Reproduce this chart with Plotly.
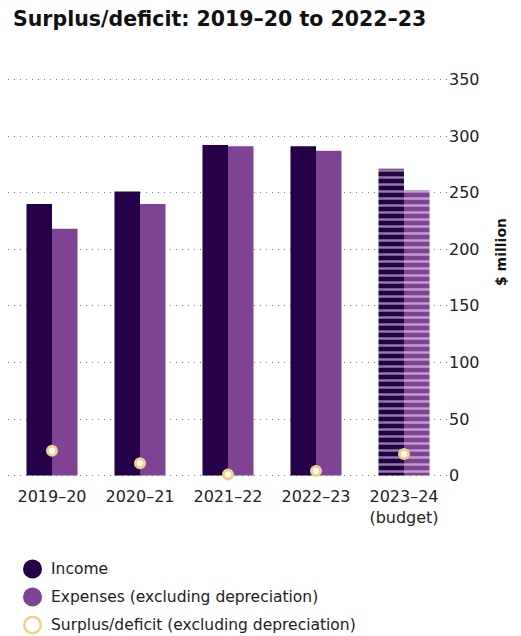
import plotly.graph_objects as go

# Financial years and values ($ million)
years = ["2019–20", "2020–21", "2021–22", "2022–23", "2023–24"]
tick_text = ["2019–20", "2020–21", "2021–22", "2022–23", "2023–24<br>(budget)"]
income = [240, 251, 292, 291, 271]
expenses = [218, 240, 291, 287, 252]
surplus = [22, 11, 1, 4, 19]
y_ticks = [0, 50, 100, 150, 200, 250, 300, 350]

INCOME_C = "#230047"
EXPENSE_C = "#7f4396"
SURPLUS_C = "#f2d088"
TEXT_C = "#222222"
FONT = "DejaVu Sans"

W, H = 521, 636
L, R, T, B = 8, 73, 76, 157
plot_w = W - L - R
plot_h = H - T - B


def px_x(px):
    return (px - L) / plot_w


def px_y(py):
    return (H - B - py) / plot_h


# budget year is drawn with horizontal white stripes
stripe = ["", "", "", "", "-"]

fig = go.Figure()
fig.add_trace(go.Bar(
    x=years, y=income, name="Income",
    marker=dict(color=INCOME_C, line_width=0,
                pattern=dict(shape=stripe, fgcolor="white", bgcolor=INCOME_C,
                             size=7, solidity=0.35)),
    showlegend=False,
))
fig.add_trace(go.Bar(
    x=years, y=expenses, name="Expenses (excluding depreciation)",
    marker=dict(color=EXPENSE_C, line_width=0,
                pattern=dict(shape=stripe, fgcolor="white", bgcolor=EXPENSE_C,
                             size=7, solidity=0.35)),
    showlegend=False,
))
fig.add_trace(go.Scatter(
    x=years, y=surplus, mode="markers", name="Surplus/deficit (excluding depreciation)",
    marker=dict(size=9, color="white", line=dict(color=SURPLUS_C, width=3)),
    cliponaxis=False, showlegend=False,
))

fig.update_layout(
    width=W, height=H,
    margin=dict(l=L, r=R, t=T, b=B),
    paper_bgcolor="white", plot_bgcolor="white",
    barmode="group", bargap=0.42, bargroupgap=0,
    font=dict(family=FONT, color=TEXT_C),
    xaxis=dict(
        tickmode="array", tickvals=years, ticktext=tick_text,
        showgrid=False, showline=False, ticks="", zeroline=False,
        tickfont=dict(size=16, color=TEXT_C),
        ticklabelstandoff=6,
    ),
    yaxis=dict(
        side="right", range=[-3, 353], tickvals=y_ticks,
        showgrid=True, gridcolor="#7a7a7a", gridwidth=1, griddash="1px,5px",
        zeroline=False, showline=False, ticks="",
        tickfont=dict(size=16, color=TEXT_C),
        ticklabelstandoff=0,
    ),
)

# chart title
fig.add_annotation(
    text="<b>Surplus/deficit: 2019–20 to 2022–23</b>",
    xref="paper", yref="paper",
    x=px_x(11), y=px_y(5),
    xanchor="left", yanchor="top", showarrow=False,
    font=dict(size=20.5, color="#111111", family=FONT),
)

# vertical unit label beside the value axis
fig.add_annotation(
    text="<b>$ million</b>", textangle=-90,
    xref="paper", yref="paper",
    x=px_x(501), y=px_y(252),
    xanchor="center", yanchor="middle", showarrow=False,
    font=dict(size=14, color="#111111", family=FONT),
)

# legend drawn as circles with labels
legend_items = [
    ("Income", INCOME_C, INCOME_C),
    ("Expenses (excluding depreciation)", EXPENSE_C, EXPENSE_C),
    ("Surplus/deficit (excluding depreciation)", "white", SURPLUS_C),
]
legend_y = [569, 597, 625]
cx, r = 32.5, 9.5
for (label, fill, edge), cy in zip(legend_items, legend_y):
    lw = 2.5 if fill == "white" else 0
    rr = r - lw / 2
    fig.add_shape(
        type="circle", xref="paper", yref="paper",
        x0=px_x(cx - rr), x1=px_x(cx + rr), y0=px_y(cy + rr), y1=px_y(cy - rr),
        fillcolor=fill, line=dict(color=edge, width=lw),
    )
    fig.add_annotation(
        text=label, xref="paper", yref="paper",
        x=px_x(49), y=px_y(cy), xanchor="left", yanchor="middle",
        showarrow=False, font=dict(size=15.5, color=TEXT_C),
    )

fig.write_html("out.html")
